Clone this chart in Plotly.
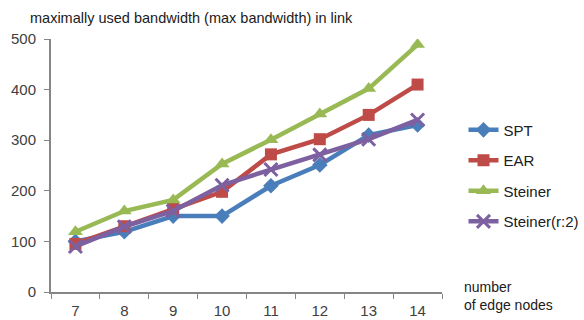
import plotly.graph_objects as go

categories = ["7", "8", "9", "10", "11", "12", "13", "14"]
spt = [100, 119, 150, 150, 210, 251, 310, 330]
ear = [95, 130, 165, 198, 272, 302, 350, 410]
steiner = [119, 160, 182, 253, 301, 352, 402, 489]
steiner_r2 = [90, 129, 160, 211, 242, 271, 302, 340]
y_ticks = [0, 100, 200, 300, 400, 500]

series = [
    ("SPT", spt, "#4A7EBB", "diamond", 12),
    ("EAR", ear, "#BE4B48", "square", 12),
    ("Steiner", steiner, "#98B954", "triangle-up", 13),
    ("Steiner(r:2)", steiner_r2, "#7D60A0", "x-thin", 13),
]

fig = go.Figure()
for name, vals, color, sym, size in series:
    fig.add_trace(go.Scatter(
        x=categories, y=vals, name=name, mode="lines+markers", legendgroup=name,
        line=dict(color=color, width=4.5),
        marker=dict(symbol=sym, size=size, color=color,
                    line=dict(color=color, width=3 if sym == "x-thin" else 0)),
    ))

font = dict(family="Liberation Sans, Arial, sans-serif", size=15, color="#404040")
fig.update_layout(
    width=584, height=320,
    margin=dict(l=51, r=142, t=39, b=28, autoexpand=False),
    paper_bgcolor="white", plot_bgcolor="white",
    font=font,
    showlegend=True,
    legend=dict(x=1.055, y=0.46, xanchor="left", yanchor="middle",
                font=dict(size=15, color="#202020"), tracegroupgap=8,
                bgcolor="rgba(0,0,0,0)"),
    xaxis=dict(type="category", categoryorder="array", categoryarray=categories,
               tickson="boundaries", ticks="outside", ticklen=5, tickcolor="#868686",
               showline=True, linecolor="#868686", linewidth=2, automargin=False,
               ticklabelstandoff=4,
               showgrid=False, zeroline=False, range=[-0.5, 7.5]),
    yaxis=dict(range=[0, 500], tickvals=y_ticks, ticks="outside", ticklen=5,
               tickcolor="#868686", showline=True, linecolor="#868686", linewidth=2,
               automargin=False, ticklabelstandoff=5, showgrid=False, zeroline=False),
    annotations=[
        dict(text="maximally used bandwidth (max bandwidth) in link", xref="paper", yref="paper",
             x=-0.06, y=1.0, xanchor="left", yanchor="bottom", yshift=11, showarrow=False,
             font=dict(size=14.5, color="#202020")),
        dict(text="number<br>of edge nodes", xref="paper", yref="paper",
             x=1.05, y=0.0, xanchor="left", yanchor="middle", showarrow=False, align="left",
             yshift=-4, font=dict(size=14, color="#202020")),
    ],
)

fig.write_html("out.html")
